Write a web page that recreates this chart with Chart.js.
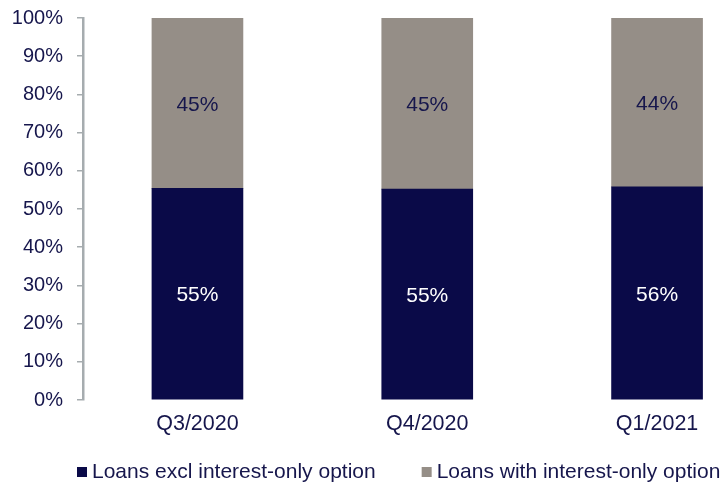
<!DOCTYPE html>
<html><head><meta charset="utf-8">
<script src="https://cdn.jsdelivr.net/npm/chart.js@4.4.0/dist/chart.umd.min.js"></script>
<style>html,body{margin:0;padding:0;background:#fff;overflow:hidden}#wrap{width:726px;height:485px;position:relative}</style>
</head><body><div id="wrap"><canvas id="c"></canvas></div>
<script>
const categories = ['Q3/2020', 'Q4/2020', 'Q1/2021'];
const seriesNames = ['Loans excl interest-only option', 'Loans with interest-only option'];
const exclValues = [55.4, 55.2, 55.8];
const withValues = [44.6, 44.8, 44.2];
const yTicks = [0, 10, 20, 30, 40, 50, 60, 70, 80, 90, 100];

const NAVY = '#0A0A48';
const GREY = '#958E87';
const TEXT = '#16164C';
const AXIS = '#A6ACAF';
const FONT = "'Liberation Sans', Arial, sans-serif";

const labelColors = ['#FFFFFF', TEXT];

const dataLabels = {
  id: 'dataLabels',
  afterDatasetsDraw(chart) {
    const ctx = chart.ctx;
    const size = 21;
    ctx.save();
    ctx.font = size + 'px ' + FONT;
    ctx.textAlign = 'center';
    ctx.textBaseline = 'alphabetic';
    chart.data.datasets.forEach((ds, di) => {
      const meta = chart.getDatasetMeta(di);
      meta.data.forEach((el, i) => {
        const v = ds.data[i].y;
        ctx.fillStyle = labelColors[di];
        ctx.fillText(Math.round(v) + '%', el.x, (el.y + el.base) / 2 + size * 0.716 / 2);
      });
    });
    ctx.restore();
  }
};

const customLegend = {
  id: 'customLegend',
  afterDraw(chart) {
    const ctx = chart.ctx;
    ctx.save();
    ctx.font = '21px ' + FONT;
    ctx.textBaseline = 'alphabetic';
    ctx.textAlign = 'left';
    let x = 77;
    const baseline = 477.5;
    chart.data.datasets.forEach((ds) => {
      ctx.fillStyle = ds.backgroundColor;
      ctx.fillRect(x, 467, 10, 10);
      ctx.fillStyle = TEXT;
      ctx.fillText(ds.label, x + 15, baseline);
      x += 15 + ctx.measureText(ds.label).width + 46;
    });
    ctx.restore();
  }
};

new Chart(document.getElementById('c'), {
  type: 'bar',
  data: {
    datasets: [
      { label: seriesNames[0], data: exclValues.map((v, i) => ({ x: i, y: v })), backgroundColor: NAVY, barThickness: 91 },
      { label: seriesNames[1], data: withValues.map((v, i) => ({ x: i, y: v })), backgroundColor: GREY, barThickness: 91 }
    ]
  },
  options: {
    responsive: true,
    maintainAspectRatio: false,
    animation: false,
    layout: { padding: { top: 18, left: 0, right: 0, bottom: 0 } },
    plugins: { legend: { display: false }, tooltip: { enabled: false } },
    scales: {
      x: {
        type: 'linear',
        stacked: true,
        offset: false,
        min: -0.498,
        max: 2.3,
        afterBuildTicks: (s) => { s.ticks = categories.map((c, i) => ({ value: i })); },
        afterFit: (s) => { s.height = 85; },
        grid: { display: false, drawTicks: false, offset: false },
        border: { display: false },
        ticks: {
          autoSkip: false, maxRotation: 0, padding: 11,
          color: TEXT, font: { family: FONT, size: 21.5 },
          callback: (v) => categories[v]
        }
      },
      y: {
        stacked: true,
        min: 0,
        max: 100,
        afterBuildTicks: (s) => { s.ticks = yTicks.map(v => ({ value: v })); },
        afterFit: (s) => { s.width = 83; s.paddingTop = 0; s.paddingBottom = 0; },
        grid: { drawOnChartArea: false, drawTicks: true, tickLength: 6, color: AXIS, lineWidth: 1.5 },
        border: { display: true, color: AXIS, width: 2.5 },
        ticks: {
          padding: 14, color: TEXT, font: { family: FONT, size: 20 },
          callback: (v) => v + '%'
        }
      }
    }
  },
  plugins: [dataLabels, customLegend]
});
</script></body></html>
